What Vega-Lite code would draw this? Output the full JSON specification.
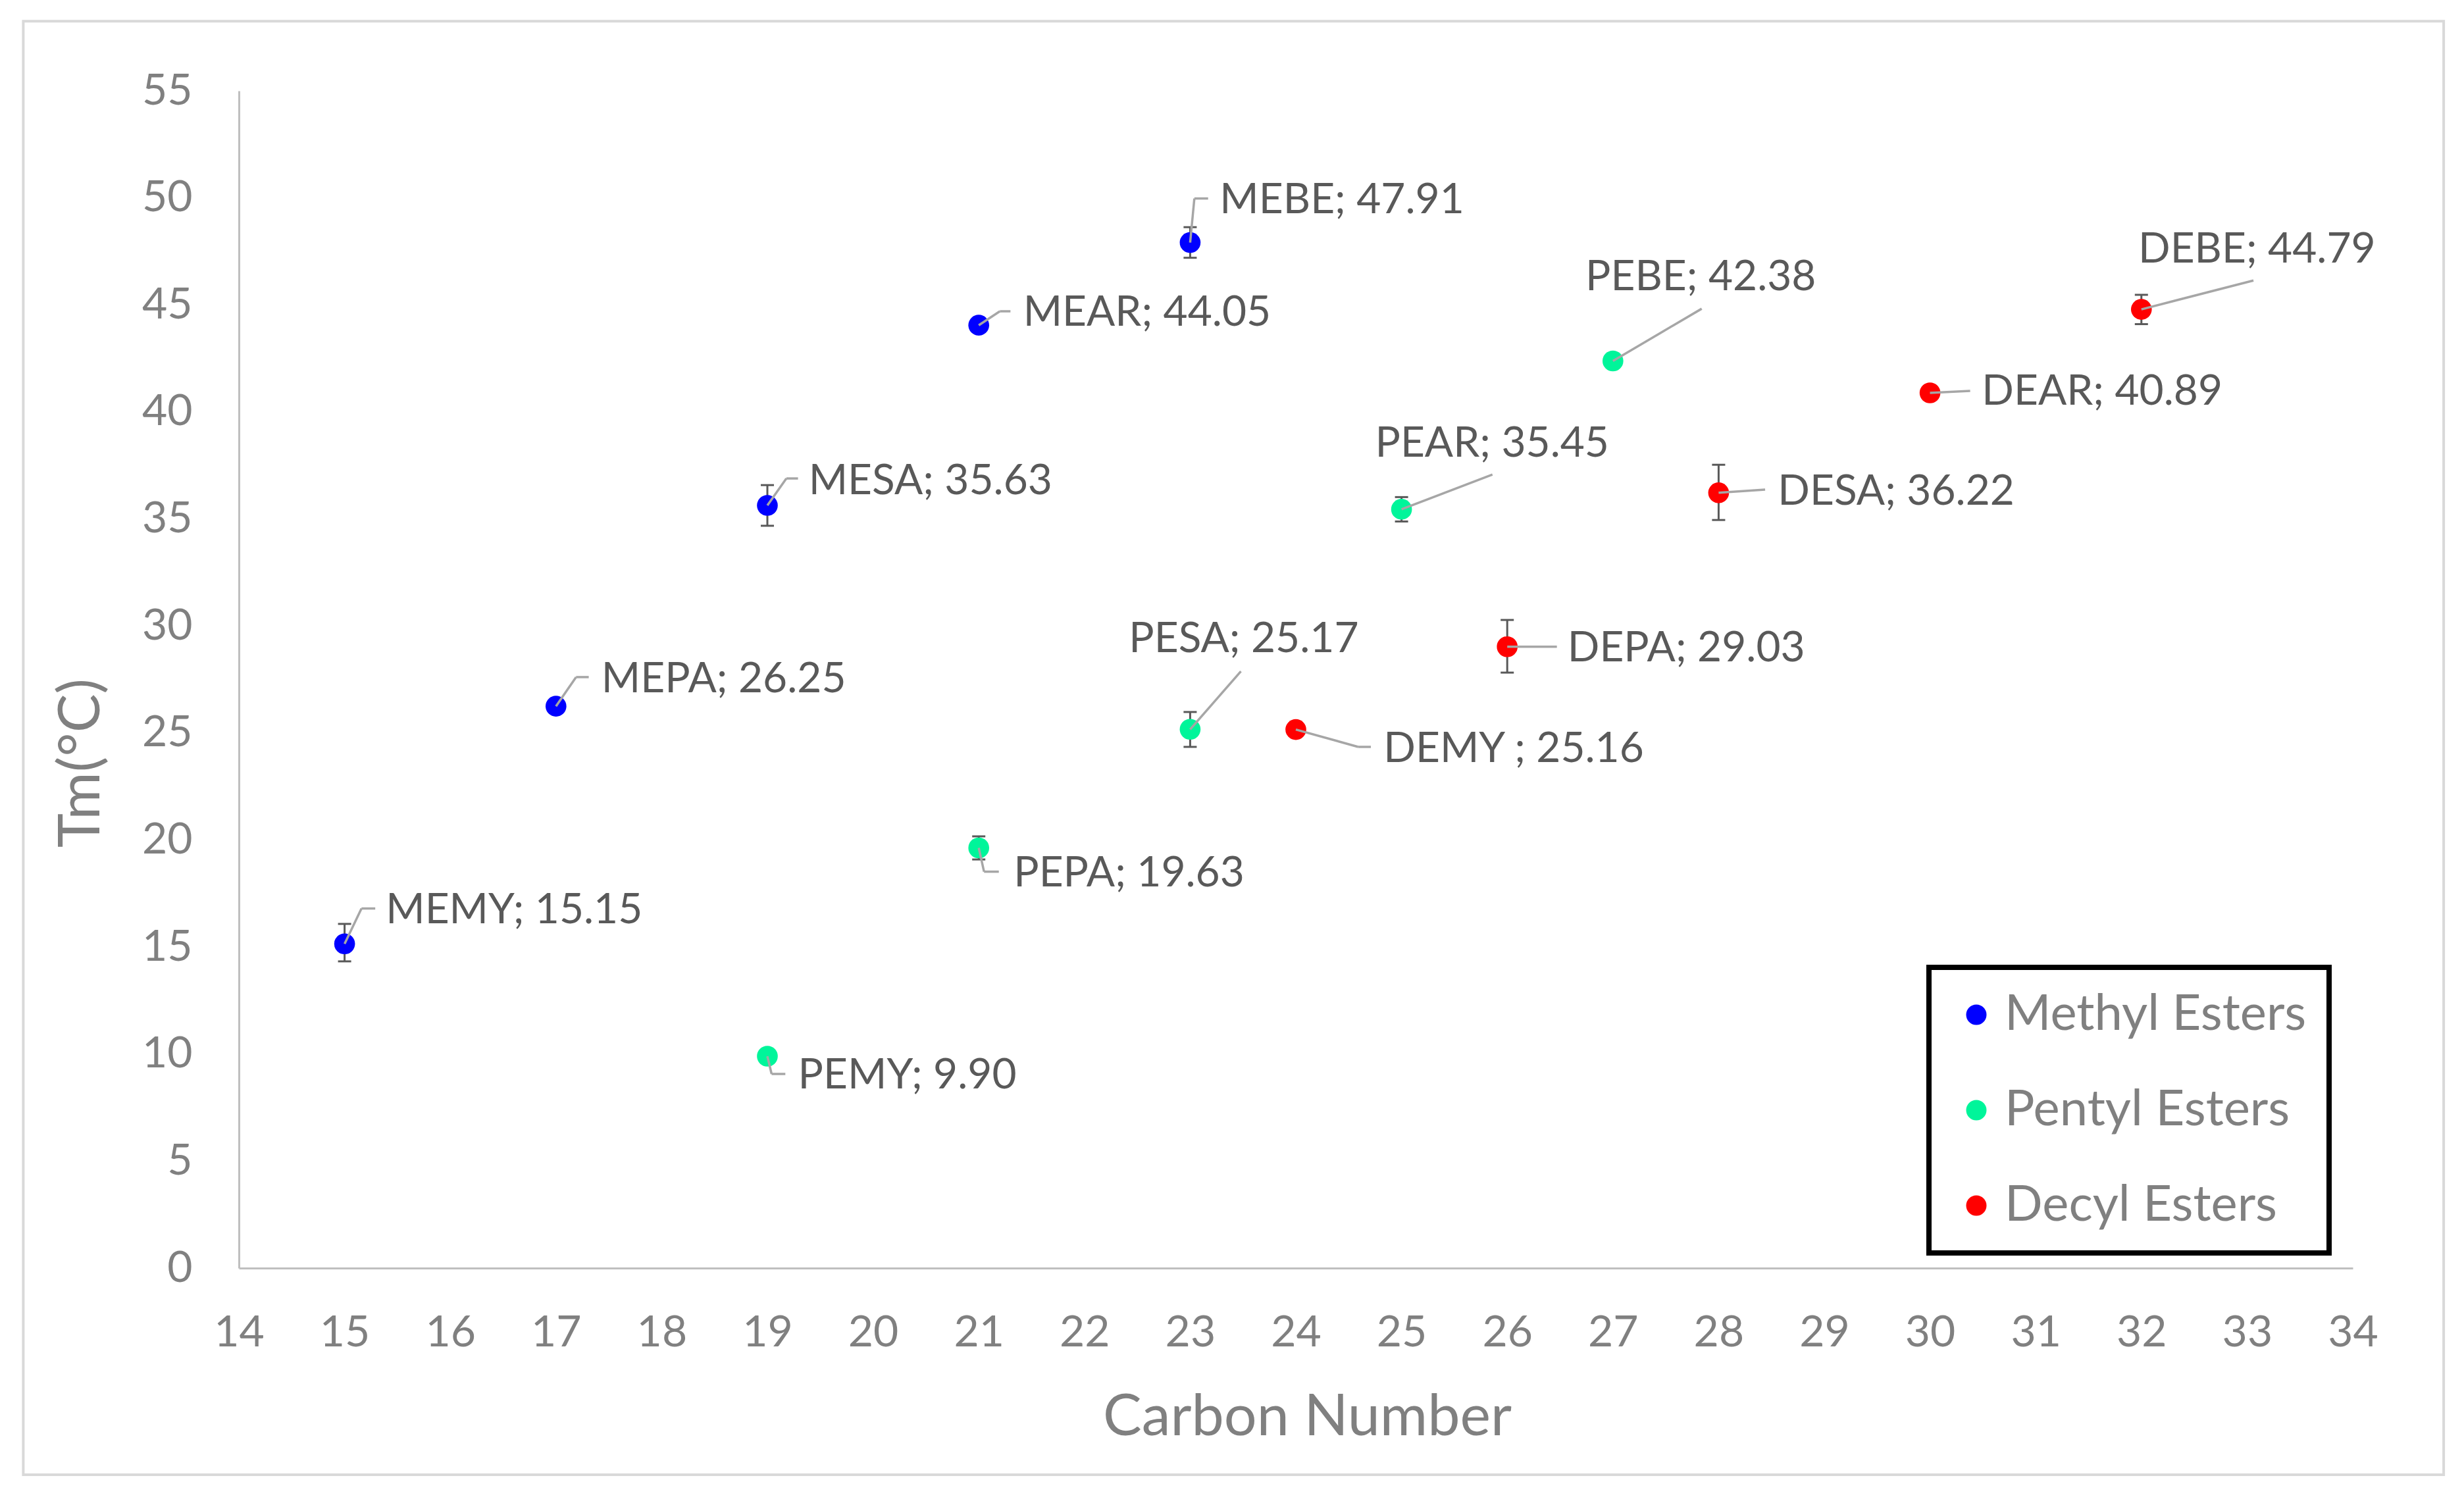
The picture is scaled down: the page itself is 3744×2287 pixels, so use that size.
{
  "$schema": "https://vega.github.io/schema/vega-lite/v6.json",
  "width": 3212,
  "height": 1789,
  "autosize": {"type": "none"},
  "padding": {"left": 363, "top": 138, "right": 169, "bottom": 360},
  "background": "white",
  "config": {
    "font": "Lato",
    "view": {"stroke": null},
    "axis": {
      "grid": false,
      "ticks": false,
      "labelFlush": false,
      "domainColor": "#bfbfbf",
      "domainWidth": 3,
      "labelFont": "Lato",
      "labelFontSize": 66,
      "labelColor": "#808080",
      "titleFont": "Lato",
      "titleFontSize": 88,
      "titleFontWeight": "normal",
      "titleColor": "#808080"
    }
  },
  "datasets": {
    "frame": [{"left": 11.96, "right": 34.86, "top": 58.25, "bottom": -9.65}]
  },
  "data": {
    "values": [
      {"name": "MEMY", "series": "Methyl Esters", "carbon": 15, "tm": 15.15, "lo": 14.33, "hi": 16.08, "ex": 15.16, "ey": 16.80, "ex2": 15.29, "lx": 15.39, "ly": 16.69, "label": "MEMY; 15.15"},
      {"name": "MEPA", "series": "Methyl Esters", "carbon": 17, "tm": 26.25, "lo": null, "hi": null, "ex": 17.19, "ey": 27.61, "ex2": 17.31, "lx": 17.43, "ly": 27.49, "label": "MEPA; 26.25"},
      {"name": "MESA", "series": "Methyl Esters", "carbon": 19, "tm": 35.63, "lo": 34.68, "hi": 36.58, "ex": 19.18, "ey": 36.89, "ex2": 19.29, "lx": 19.39, "ly": 36.75, "label": "MESA; 35.63"},
      {"name": "MEAR", "series": "Methyl Esters", "carbon": 21, "tm": 44.05, "lo": null, "hi": null, "ex": 21.20, "ey": 44.70, "ex2": 21.30, "lx": 21.42, "ly": 44.61, "label": "MEAR; 44.05"},
      {"name": "MEBE", "series": "Methyl Esters", "carbon": 23, "tm": 47.91, "lo": 47.20, "hi": 48.63, "ex": 23.04, "ey": 49.97, "ex2": 23.17, "lx": 23.28, "ly": 49.86, "label": "MEBE; 47.91"},
      {"name": "PEMY", "series": "Pentyl Esters", "carbon": 19, "tm": 9.90, "lo": null, "hi": null, "ex": 19.04, "ey": 9.07, "ex2": 19.17, "lx": 19.29, "ly": 8.98, "label": "PEMY; 9.90"},
      {"name": "PEPA", "series": "Pentyl Esters", "carbon": 21, "tm": 19.63, "lo": 19.09, "hi": 20.17, "ex": 21.05, "ey": 18.52, "ex2": 21.19, "lx": 21.33, "ly": 18.40, "label": "PEPA; 19.63"},
      {"name": "PESA", "series": "Pentyl Esters", "carbon": 23, "tm": 25.17, "lo": 24.35, "hi": 25.98, "ex": 23.48, "ey": 27.88, "ex2": 23.48, "lx": 22.42, "ly": 29.36, "label": "PESA; 25.17"},
      {"name": "PEAR", "series": "Pentyl Esters", "carbon": 25, "tm": 35.45, "lo": 34.88, "hi": 36.02, "ex": 25.86, "ey": 37.07, "ex2": 25.86, "lx": 24.75, "ly": 38.49, "label": "PEAR; 35.45"},
      {"name": "PEBE", "series": "Pentyl Esters", "carbon": 27, "tm": 42.38, "lo": null, "hi": null, "ex": 27.84, "ey": 44.82, "ex2": 27.84, "lx": 26.74, "ly": 46.27, "label": "PEBE; 42.38"},
      {"name": "DEMY", "series": "Decyl Esters", "carbon": 24, "tm": 25.16, "lo": null, "hi": null, "ex": 24.59, "ey": 24.35, "ex2": 24.71, "lx": 24.83, "ly": 24.22, "label": "DEMY ; 25.16"},
      {"name": "DEPA", "series": "Decyl Esters", "carbon": 26, "tm": 29.03, "lo": 27.82, "hi": 30.28, "ex": 26.47, "ey": 29.03, "ex2": 26.47, "lx": 26.57, "ly": 28.93, "label": "DEPA; 29.03"},
      {"name": "DESA", "series": "Decyl Esters", "carbon": 28, "tm": 36.22, "lo": 34.95, "hi": 37.53, "ex": 28.44, "ey": 36.37, "ex2": 28.44, "lx": 28.56, "ly": 36.24, "label": "DESA; 36.22"},
      {"name": "DEAR", "series": "Decyl Esters", "carbon": 30, "tm": 40.89, "lo": null, "hi": null, "ex": 30.38, "ey": 40.98, "ex2": 30.38, "lx": 30.49, "ly": 40.92, "label": "DEAR; 40.89"},
      {"name": "DEBE", "series": "Decyl Esters", "carbon": 32, "tm": 44.79, "lo": 44.10, "hi": 45.47, "ex": 33.06, "ey": 46.14, "ex2": 33.06, "lx": 31.97, "ly": 47.56, "label": "DEBE; 44.79"}
    ]
  },
  "encoding": {
    "x": {
      "field": "carbon",
      "type": "quantitative",
      "scale": {"domain": [14, 34], "nice": false, "zero": false},
      "axis": {
        "title": "Carbon Number",
        "values": [14, 15, 16, 17, 18, 19, 20, 21, 22, 23, 24, 25, 26, 27, 28, 29, 30, 31, 32, 33, 34],
        "labelPadding": 66,
        "titleX": 1623,
        "titleY": 253,
        "titleAlign": "center",
        "titleBaseline": "alphabetic"
      }
    },
    "y": {
      "field": "tm",
      "type": "quantitative",
      "scale": {"domain": [0, 55], "nice": false, "zero": false},
      "axis": {
        "title": "Tm(°C)",
        "values": [0, 5, 10, 15, 20, 25, 30, 35, 40, 45, 50, 55],
        "labelPadding": 71,
        "titleX": -213,
        "titleY": 1021,
        "titleAngle": -90,
        "titleAlign": "center",
        "titleBaseline": "alphabetic"
      }
    }
  },
  "layer": [
    {
      "data": {"name": "frame"},
      "mark": {"type": "rect", "fill": "transparent", "stroke": "#d9d9d9", "strokeWidth": 4, "clip": false},
      "encoding": {
        "x": {"field": "left", "type": "quantitative"},
        "x2": {"field": "right"},
        "y": {"field": "top", "type": "quantitative"},
        "y2": {"field": "bottom"}
      }
    },
    {
      "transform": [{"filter": "datum.lo != null"}],
      "mark": {"type": "rule", "color": "#595959", "strokeWidth": 3},
      "encoding": {
        "y": {"field": "lo", "type": "quantitative"},
        "y2": {"field": "hi"}
      }
    },
    {
      "transform": [{"filter": "datum.lo != null"}],
      "mark": {"type": "tick", "orient": "horizontal", "color": "#595959", "size": 20, "thickness": 3, "opacity": 1},
      "encoding": {"y": {"field": "lo", "type": "quantitative"}}
    },
    {
      "transform": [{"filter": "datum.hi != null"}],
      "mark": {"type": "tick", "orient": "horizontal", "color": "#595959", "size": 20, "thickness": 3, "opacity": 1},
      "encoding": {"y": {"field": "hi", "type": "quantitative"}}
    },
    {
      "mark": {"type": "point", "shape": "circle", "filled": true, "opacity": 1, "size": 1000},
      "encoding": {
        "color": {
          "field": "series",
          "type": "nominal",
          "scale": {"domain": ["Methyl Esters", "Pentyl Esters", "Decyl Esters"], "range": ["#0000ff", "#00f59a", "#ff0000"]},
          "legend": {
            "title": null,
            "orient": "none",
            "legendX": 2568,
            "legendY": 1332,
            "strokeColor": "#000000",
            "padding": 34,
            "symbolType": "circle",
            "symbolSize": 960,
            "symbolStrokeWidth": 0,
            "symbolOpacity": 1,
            "symbolOffset": 0,
            "labelFont": "Lato",
            "labelFontSize": 76,
            "labelColor": "#808080",
            "labelOffset": 5,
            "labelLimit": 0,
            "rowPadding": 69,
            "encode": {
              "legend": {"update": {"strokeWidth": {"value": 8}, "stroke": {"value": "#000000"}}}
            }
          }
        }
      }
    },
    {
      "mark": {"type": "rule", "color": "#a6a6a6", "strokeWidth": 3.5},
      "encoding": {
        "x2": {"field": "ex"},
        "y2": {"field": "ey"}
      }
    },
    {
      "mark": {"type": "rule", "color": "#a6a6a6", "strokeWidth": 3.5},
      "encoding": {
        "x": {"field": "ex", "type": "quantitative"},
        "x2": {"field": "ex2"},
        "y": {"field": "ey", "type": "quantitative"}
      }
    },
    {
      "mark": {"type": "text", "align": "left", "baseline": "middle", "font": "Lato", "fontSize": 64, "color": "#595959"},
      "encoding": {
        "x": {"field": "lx", "type": "quantitative"},
        "y": {"field": "ly", "type": "quantitative"},
        "text": {"field": "label"}
      }
    }
  ]
}
